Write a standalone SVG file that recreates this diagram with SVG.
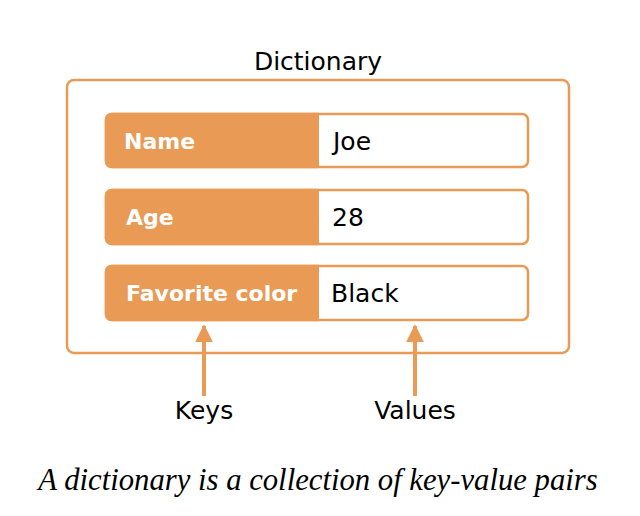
<svg xmlns="http://www.w3.org/2000/svg" width="640" height="516" viewBox="0 0 640 516">
<style>
.box{fill:#fff;stroke:#E99A55;stroke-width:2.5}
.key{fill:#E99A55}
.kt{font-family:"DejaVu Sans",Verdana,sans-serif;font-weight:bold;font-size:22px;fill:#fff}
.vt{font-family:"DejaVu Sans",Verdana,sans-serif;font-size:25px;fill:#000}
.lt{font-family:"DejaVu Sans",Verdana,sans-serif;font-size:25px;fill:#000;text-anchor:middle}
.arr{stroke:#E99A55;stroke-width:4;fill:none}
.cap{font-family:"Liberation Serif","DejaVu Serif",serif;font-style:italic;font-size:30.7px;fill:#000;text-anchor:middle}
</style>
<defs>
<marker id="ah" viewBox="0 0 10 10" refX="9" refY="5" markerWidth="4.5" markerHeight="4.5" orient="auto" markerUnits="strokeWidth">
<path d="M0,0 L10,5 L0,10 z" fill="#E99A55"/>
</marker>
</defs>
<g id="dictionary">
<text class="lt" x="318" y="70">Dictionary</text>
<rect class="box" x="67" y="80" width="502" height="273" rx="7"/>
</g>
<g id="row-name">
<rect class="box" x="106" y="114" width="422" height="53" rx="6"/>
<path class="key" d="M112,112.75 H319 V168.25 H112 A7,7 0 0 1 104.75,161 V120 A7,7 0 0 1 112,112.75 z"/>
<text class="kt" x="124" y="149">Name</text>
<text class="vt" x="333" y="150">Joe</text>
</g>
<g id="row-age">
<rect class="box" x="106" y="190" width="422" height="54" rx="6"/>
<path class="key" d="M112,188.75 H319 V245.25 H112 A7,7 0 0 1 104.75,238 V196 A7,7 0 0 1 112,188.75 z"/>
<text class="kt" x="126" y="225">Age</text>
<text class="vt" x="332" y="226">28</text>
</g>
<g id="row-color">
<rect class="box" x="106" y="266" width="422" height="54" rx="6"/>
<path class="key" d="M112,264.75 H319 V321.25 H112 A7,7 0 0 1 104.75,314 V272 A7,7 0 0 1 112,264.75 z"/>
<text class="kt" x="126" y="301">Favorite color</text>
<text class="vt" x="331" y="302">Black</text>
</g>
<g id="connectors">
<line class="arr" x1="204" y1="396" x2="204" y2="326" marker-end="url(#ah)"/>
<line class="arr" x1="415" y1="396" x2="415" y2="326" marker-end="url(#ah)"/>
</g>
<g id="labels">
<text class="lt" x="204" y="419">Keys</text>
<text class="lt" x="415" y="419">Values</text>
</g>
<text class="cap" x="318" y="490">A dictionary is a collection of key-value pairs</text>
</svg>
